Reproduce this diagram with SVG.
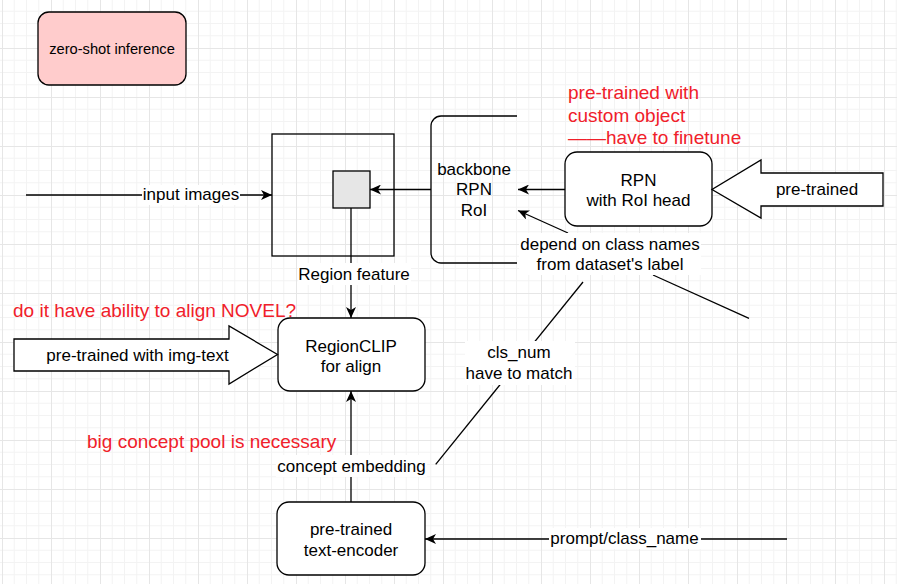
<svg xmlns="http://www.w3.org/2000/svg" width="897" height="584" viewBox="0 0 897 584">
<defs>
<pattern id="grid" width="49" height="49" patternUnits="userSpaceOnUse" x="2" y="-1">
<path d="M12.25 0V49M24.5 0V49M36.75 0V49M0 12.25H49M0 24.5H49M0 36.75H49" stroke="#f3f3f3" stroke-width="1" fill="none"/>
<path d="M0.5 0V49M0 0.5H49" stroke="#e6e6e6" stroke-width="1" fill="none"/>
</pattern>
<marker id="arr" markerWidth="12" markerHeight="10" refX="11" refY="5" orient="auto" markerUnits="userSpaceOnUse">
<path d="M0,0 L11,5 L0,10 L3,5 z" fill="#000"/>
</marker>
<style>
.box{fill:#fff;stroke:#000;stroke-width:1.3}
.t{font-family:"Liberation Sans",Arial,sans-serif;font-size:17px;fill:#000;text-anchor:middle;dominant-baseline:central}
.red{font-family:"Liberation Sans",Arial,sans-serif;font-size:19px;fill:#f0202a;dominant-baseline:central}
.edge{stroke:#000;stroke-width:1.3;fill:none}
.bg{fill:#fff}
</style>
</defs>
<rect width="897" height="584" fill="#fff"/>
<rect width="897" height="584" fill="url(#grid)"/>

<g id="connectors">
<path class="edge" d="M26 195H272" marker-end="url(#arr)"/>
<rect class="bg" x="142" y="185" width="98" height="20"/>
<text class="t" x="191" y="194">input images</text>

<path class="edge" d="M431 189.5H370" marker-end="url(#arr)"/>
<path class="edge" d="M351 208V318" marker-end="url(#arr)"/>
<rect class="bg" x="298" y="263" width="113" height="22"/>
<text class="t" x="354" y="274">Region feature</text>

<path class="edge" d="M565 189.5H518" marker-end="url(#arr)"/>
<path class="edge" d="M568 233L518 210.5" marker-end="url(#arr)"/>

<path class="edge" d="M583 282L435.7 464.3"/>
<path class="edge" d="M653 275L749 318.3"/>
<rect class="bg" x="519" y="233" width="182" height="42"/>
<text class="t" x="610" y="244">depend on class names</text>
<text class="t" x="610" y="264">from dataset's label</text>
<rect class="bg" x="465" y="341" width="110" height="44"/>
<text class="t" x="519" y="352.5">cls_num</text>
<text class="t" x="519" y="373.5">have to match</text>

<path class="edge" d="M351 502V391" marker-end="url(#arr)"/>
<rect class="bg" x="276" y="455" width="151" height="22"/>
<text class="t" x="351.5" y="466">concept embedding</text>

<path class="edge" d="M787 539H425" marker-end="url(#arr)"/>
<rect class="bg" x="549" y="528" width="152" height="21"/>
<text class="t" x="624.5" y="538.5">prompt/class_name</text>
</g>

<g id="zero-shot">
<rect x="38" y="12" width="148" height="73" rx="11" fill="#ffcccc" stroke="#000" stroke-width="1.3"/>
<text class="t" x="112" y="48.5" style="font-size:14.7px">zero-shot inference</text>
</g>

<g id="image-box">
<rect x="272" y="134" width="122" height="122" fill="none" stroke="#000" stroke-width="1.3"/>
<rect x="333" y="171" width="37" height="37" fill="#e6e6e6" stroke="#000" stroke-width="1.3"/>
</g>

<g id="bracket">
<path class="edge" d="M517 116H441A10 10 0 0 0 431 126V253A10 10 0 0 0 441 263H517"/>
<text class="t" x="474" y="169.5">backbone</text>
<text class="t" x="474" y="189.5">RPN</text>
<text class="t" x="474" y="210">RoI</text>
</g>

<g id="rpn">
<rect class="box" x="565" y="152" width="147" height="74" rx="12"/>
<text class="t" x="638.5" y="180">RPN</text>
<text class="t" x="638.5" y="200">with RoI head</text>
</g>

<g id="pretrained-arrow">
<path class="box" d="M883 173H761V160L712 189.5L761 218V206H883Z"/>
<text class="t" x="817" y="189">pre-trained</text>
</g>

<g id="note-rpn">
<text class="red" x="568" y="92.5">pre-trained with</text>
<text class="red" x="568" y="115">custom object</text>
<text class="red" x="568" y="137.5">——have to finetune</text>
</g>

<g id="note-novel">
<text class="red" x="13" y="310">do it have ability to align NOVEL?</text>
</g>

<g id="regionclip">
<rect class="box" x="278" y="318" width="147" height="73" rx="12"/>
<text class="t" x="351" y="346.5">RegionCLIP</text>
<text class="t" x="351" y="366.5">for align</text>
</g>

<g id="img-text-arrow">
<path class="box" d="M14 339H229V326L277.5 354.5L229 384V371H14Z"/>
<text class="t" x="137.5" y="355">pre-trained with img-text</text>
</g>

<g id="note-pool">
<text class="red" x="87" y="441.5">big concept pool is necessary</text>
</g>

<g id="text-encoder">
<rect class="box" x="277" y="502" width="148" height="73" rx="12"/>
<text class="t" x="351" y="529">pre-trained</text>
<text class="t" x="351" y="550">text-encoder</text>
</g>
</svg>
